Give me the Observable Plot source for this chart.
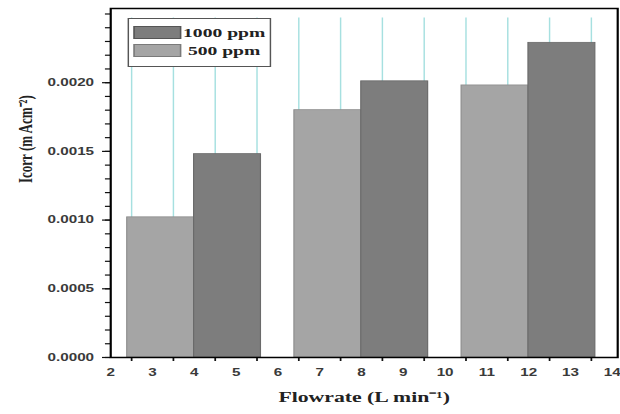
<!DOCTYPE html>
<html><head><meta charset="utf-8">
<script src="https://cdn.jsdelivr.net/npm/d3@7"></script>
<script src="https://cdn.jsdelivr.net/npm/@observablehq/plot@0.6"></script>
<style>
html,body{margin:0;padding:0;background:#fff;}
#wrap{position:relative;width:427.59px;height:414px;transform:scaleX(1.45);transform-origin:0 0;background:#fff;}
#legend{position:absolute;left:87.6px;top:18px;width:99.3px;height:49px;box-sizing:border-box;border:1px solid #555;background:#fff;}
.sw{position:absolute;left:3.1px;width:33.1px;height:13px;box-sizing:border-box;}
.lt{position:absolute;left:37px;width:58px;text-align:center;font-family:"Liberation Serif","Times New Roman",serif;font-weight:bold;font-size:13.5px;line-height:14px;color:#222;}
</style></head><body><div id="wrap"></div>
<script>
// ---- data ----
const flowrates = [4, 8, 12];
const seriesNames = ["1000 ppm", "500 ppm"];
const icorr500 = [0.00102, 0.00180, 0.00198];
const icorr1000 = [0.00148, 0.00201, 0.00229];
const xLabels = [2, 3, 4, 5, 6, 7, 8, 9, 10, 11, 12, 13, 14];
const xTickMarks = [2.5, 3.5, 4.5, 5.5, 6.5, 7.5, 8.5, 9.5, 10.5, 11.5, 12.5, 13.5];
const yMajor = [0, 0.0005, 0.0010, 0.0015, 0.0020];
const yMinor = d3.range(0, 26).map(i => i / 10000);
const xTitle = "Flowrate (L min⁻¹)";
const yTitle = "Icorr (m Acm⁻²)";

// ---- layout ----
const S = 1.45;
const W = 620 / S;
const barSpan = 1.6;
const gridTop = 0.00247;
const colLight = "#a5a5a5", colDark = "#7d7d7d";

const bars500 = flowrates.map((f, i) => ({x1: f - barSpan, x2: f, v: icorr500[i]}));
const bars1000 = flowrates.map((f, i) => ({x1: f, x2: f + barSpan, v: icorr1000[i]}));

const chart = Plot.plot({
  width: W, height: 414,
  marginLeft: 110 / S, marginRight: 3 / S, marginTop: 8, marginBottom: 57,
  x: {domain: [2, 14.13]},
  y: {domain: [0, 0.00254]},
  style: {fontFamily: "'Liberation Sans', Arial, sans-serif", fontSize: "10.5px", color: "#3a3a3a", background: "#fff"},
  marks: [
    Plot.ruleX(xTickMarks, {x: d => d, y1: 0, y2: gridTop, stroke: "#a6e0e0", strokeWidth: 1}),
    Plot.rect(bars500, {x1: "x1", x2: "x2", y1: 0, y2: "v", fill: colLight, stroke: "#8e8e8e", strokeWidth: 0.8}),
    Plot.rect(bars1000, {x1: "x1", x2: "x2", y1: 0, y2: "v", fill: colDark, stroke: "#6a6a6a", strokeWidth: 0.8}),
    Plot.axisY(yMinor, {tickSize: 3.5, tickFormat: () => "", stroke: "#111", strokeWidth: 1.2, label: null}),
    Plot.axisY(yMajor, {tickSize: 5.5, tickPadding: 6, tickFormat: d3.format(".4f"), stroke: "#111", strokeWidth: 1.2, fontWeight: "bold", label: null}),
    Plot.axisX(xTickMarks, {tickSize: 4, tickFormat: () => "", stroke: "#111", strokeWidth: 1.2, label: null}),
    Plot.axisX(xLabels, {tickSize: 0, tickPadding: 11, fontWeight: "bold", label: null}),
    Plot.frame({stroke: "#000", strokeWidth: 1.5}),
    Plot.text([yTitle], {text: d => d, frameAnchor: "left", dx: -58.7, rotate: -90,
      fontFamily: "'Liberation Serif', 'Times New Roman', serif", fontWeight: "bold", fontSize: 13, fill: "#222"}),
    Plot.text([xTitle], {text: d => d, frameAnchor: "bottom", dy: 45,
      fontFamily: "'Liberation Serif', 'Times New Roman', serif", fontWeight: "bold", fontSize: 15, fill: "#222"})
  ]
});
const wrap = document.getElementById("wrap");
wrap.appendChild(chart);

// legend
const legend = document.createElement("div");
legend.id = "legend";
const swatchCols = {"1000 ppm": [colDark, "#555"], "500 ppm": [colLight, "#7a7a7a"]};
seriesNames.forEach((name, i) => {
  const sw = document.createElement("div");
  sw.className = "sw";
  sw.style.top = (7 + i * 18) + "px";
  sw.style.background = swatchCols[name][0];
  sw.style.border = "1px solid " + swatchCols[name][1];
  legend.appendChild(sw);
  const t = document.createElement("span");
  t.className = "lt";
  t.style.top = (7 + i * 18) + "px";
  t.textContent = name;
  legend.appendChild(t);
});
wrap.appendChild(legend);
</script>
</body></html>
